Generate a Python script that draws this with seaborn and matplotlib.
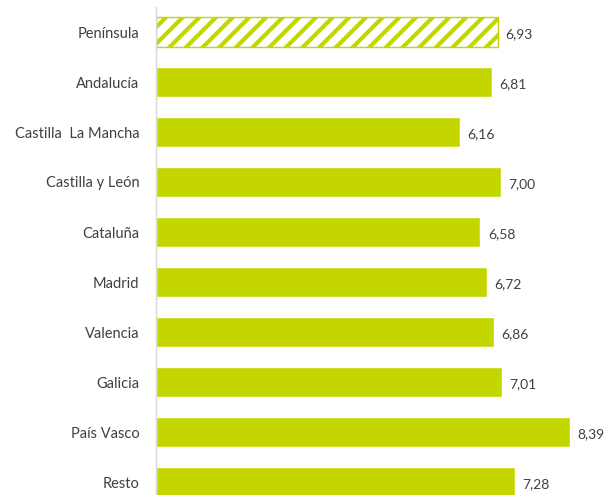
import pandas as pd
import matplotlib.pyplot as plt
import seaborn as sns

# data
regions = ['Península', 'Andalucía', 'Castilla  La Mancha', 'Castilla y León', 'Cataluña',
           'Madrid', 'Valencia', 'Galicia', 'País Vasco', 'Resto']
values = [6.93, 6.81, 6.16, 7.00, 6.58, 6.72, 6.86, 7.01, 8.39, 7.28]

df = pd.DataFrame({'region': regions, 'value': values})

green = '#c4d600'
text_col = '#404040'

sns.set_style('white')
plt.rcParams['font.family'] = ['Lato', 'DejaVu Sans']
plt.rcParams['hatch.linewidth'] = 3.0
plt.rcParams['hatch.color'] = green

fig = plt.figure(figsize=(6.11, 4.95), dpi=100)
ax = fig.add_axes([156 / 611, 0, 444 / 611, 488 / 495])

sns.barplot(data=df, y='region', x='value', color=green, width=0.6,
            orient='h', ax=ax, saturation=1)

# first bar: white with diagonal stripes
first = ax.patches[0]
first.set_facecolor('white')
first.set_hatch('//')
first.set_edgecolor(green)
first.set_linewidth(1)

for i, v in enumerate(values):
    ax.text(v + 0.15, i + 0.05, f"{v:.2f}".replace('.', ','), va='center', ha='left',
            fontsize=10, color=text_col)

ax.set_xlim(0, 444 / 49.3)
ax.set_ylim(9.26, -0.5)
ax.set_xlabel('')
ax.set_ylabel('')
ax.set_xticks([])
ax.tick_params(axis='y', length=0, pad=12, labelsize=10.5, labelcolor=text_col)
for s in ['top', 'right', 'bottom']:
    ax.spines[s].set_visible(False)
ax.spines['left'].set_color('#d9d9d9')
ax.spines['left'].set_linewidth(1)

fig.savefig('out.png', dpi=100)
